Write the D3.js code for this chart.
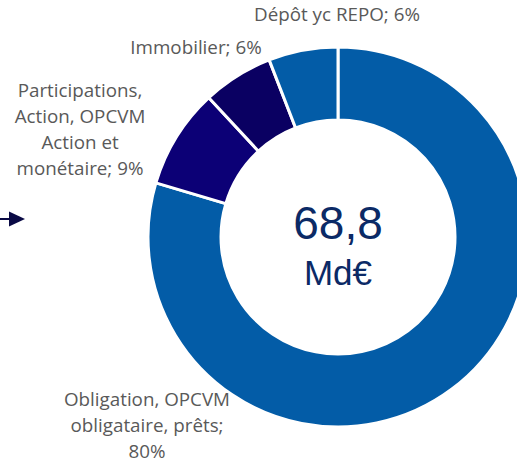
<!DOCTYPE html>
<html>
<head>
<meta charset="utf-8">
<script src="https://cdn.jsdelivr.net/npm/d3@7"></script>
<style>
  html, body { margin: 0; padding: 0; background: #fff; }
  svg { display: block; }
</style>
</head>
<body>
<script>
// Data
const categories = [
  "Obligation, OPCVM obligataire, prêts",
  "Participations, Action, OPCVM Action et monétaire",
  "Immobilier",
  "Dépôt yc REPO"
];
const values = [79.6, 8.5, 6.0, 5.9];
const percentLabels = ["80%", "9%", "6%", "6%"];
const labelLines = [
  ["Obligation, OPCVM", "obligataire, prêts;", "80%"],
  ["Participations,", "Action, OPCVM", "Action et", "monétaire; 9%"],
  ["Immobilier; 6%"],
  ["Dépôt yc REPO; 6%"]
];
const totalText = ["68,8", "Md€"];
const colors = ["#035CA7", "#0C0076", "#0A0062", "#035CA7"];

const W = 517, H = 463;
const cx = 338, cy = 237, rOuter = 190, rInner = 117;

const svg = d3.select("body").append("svg").attr("width", W).attr("height", H);

const pie = d3.pie().sort(null).value(d => d)
  .startAngle(0).endAngle(2 * Math.PI);
const arcs = pie(values);
const arc = d3.arc().innerRadius(rInner).outerRadius(rOuter);

const g = svg.append("g").attr("transform", `translate(${cx},${cy})`);
g.selectAll("path").data(arcs).enter().append("path")
  .attr("d", arc)
  .attr("fill", (d, i) => colors[i])
  .attr("stroke", "#fff")
  .attr("stroke-width", 3)
  .attr("stroke-linejoin", "miter");

// Center text
g.append("text").attr("x", 0).attr("y", 2).attr("text-anchor", "middle")
  .attr("font-family", "Liberation Sans, Arial, sans-serif")
  .attr("font-size", 46).attr("fill", "#0B2A66").text(totalText[0]);
g.append("text").attr("x", 0).attr("y", 48).attr("text-anchor", "middle")
  .attr("font-family", "Liberation Sans, Arial, sans-serif")
  .attr("font-size", 35).attr("fill", "#0B2A66").text(totalText[1]);

// Labels (positions in page coords)
const labelPos = [
  { x: 147, y: 406 },
  { x: 80, y: 97 },
  { x: 196, y: 54 },
  { x: 337, y: 21 }
];
const lineH = 26;
labelLines.forEach((lines, i) => {
  const t = svg.append("text")
    .attr("text-anchor", "middle")
    .attr("font-family", "Open Sans, sans-serif")
    .attr("font-size", 18.8)
    .attr("fill", "#595959");
  lines.forEach((ln, j) => {
    t.append("tspan").attr("x", labelPos[i].x).attr("y", labelPos[i].y + j * lineH).text(ln);
  });
});

// Arrow at left
svg.append("line").attr("x1", 0).attr("y1", 219).attr("x2", 12).attr("y2", 219)
  .attr("stroke", "#0A0A45").attr("stroke-width", 2);
svg.append("path").attr("d", "M9,211.5 L25,219 L9,226.5 Z").attr("fill", "#0A0A45");
</script>
</body>
</html>
